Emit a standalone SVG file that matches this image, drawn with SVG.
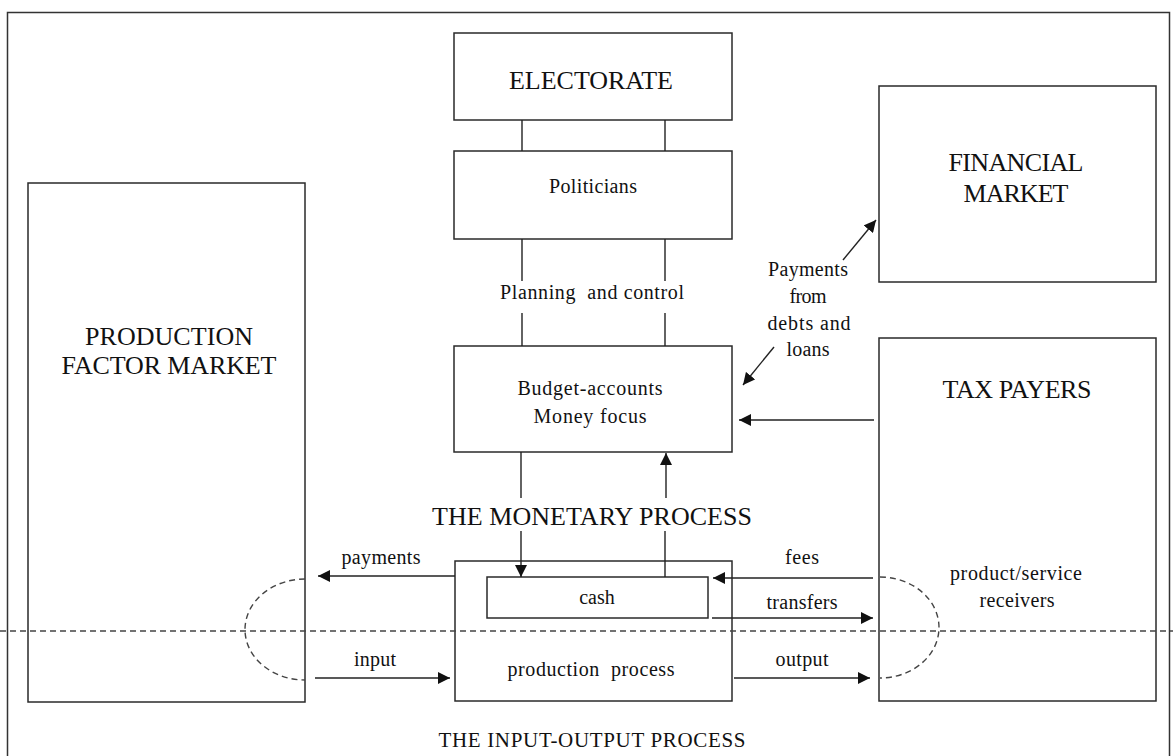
<svg xmlns="http://www.w3.org/2000/svg" width="1173" height="756" viewBox="0 0 1173 756">
  <defs>
    <marker id="arrow" viewBox="0 0 10 10" refX="10" refY="5" markerWidth="12" markerHeight="12" markerUnits="userSpaceOnUse" orient="auto">
      <path d="M0,0 L10,5 L0,10 z" fill="#111"/>
    </marker>
    <style>
      .box { fill: none; stroke: #2a2a2a; stroke-width: 1.5; }
      .link { fill: none; stroke: #222; stroke-width: 1.4; }
      .arr { fill: none; stroke: #222; stroke-width: 1.4; marker-end: url(#arrow); }
      .dash { fill: none; stroke: #444; stroke-width: 1.4; stroke-dasharray: 6 4; }
      text { font-family: "Liberation Serif", "Times New Roman", serif; fill: #111; text-anchor: middle; white-space: pre; }
      .big { font-size: 26px; }
      .mid { font-size: 21px; }
      .sm { font-size: 20px; }
    </style>
  </defs>

  <rect width="1173" height="756" fill="#fff"/>
  <!-- outer frame -->
  <rect x="7.5" y="12.5" width="1162" height="800" fill="none" stroke="#333" stroke-width="1.5"/>

  <g id="electorate">
    <rect class="box" x="454" y="33" width="278" height="87"/>
    <text class="big" x="591" y="89" textLength="164" lengthAdjust="spacing">ELECTORATE</text>
  </g>

  <g id="politicians">
    <rect class="box" x="454" y="151" width="278" height="88"/>
    <text class="sm" x="593" y="193" textLength="88" lengthAdjust="spacing">Politicians</text>
  </g>

  <g id="budget">
    <rect class="box" x="454" y="346" width="278" height="106"/>
    <text class="sm" x="590" y="395" textLength="145" lengthAdjust="spacing">Budget-accounts</text>
    <text class="sm" x="590" y="423" textLength="113" lengthAdjust="spacing">Money focus</text>
  </g>

  <g id="production-factor-market">
    <rect class="box" x="28" y="183" width="277" height="519"/>
    <text class="big" x="169" y="345" textLength="168" lengthAdjust="spacing">PRODUCTION</text>
    <text class="big" x="169" y="374" textLength="215" lengthAdjust="spacing">FACTOR MARKET</text>
  </g>

  <g id="financial-market">
    <rect class="box" x="879" y="86" width="277" height="196"/>
    <text class="big" x="1016" y="171" textLength="135" lengthAdjust="spacing">FINANCIAL</text>
    <text class="big" x="1016" y="202" textLength="105" lengthAdjust="spacing">MARKET</text>
  </g>

  <g id="tax-payers">
    <rect class="box" x="879" y="338" width="277" height="363"/>
    <text class="big" x="1017" y="398" textLength="149" lengthAdjust="spacing">TAX PAYERS</text>
    <text class="sm" x="1016" y="580" textLength="132" lengthAdjust="spacing">product/service</text>
    <text class="sm" x="1017" y="607" textLength="75" lengthAdjust="spacing">receivers</text>
  </g>

  <g id="production-process">
    <rect class="box" x="455" y="561" width="277" height="140"/>
    <text class="sm" x="591" y="676" textLength="167" lengthAdjust="spacing">production  process</text>
  </g>

  <g id="cash">
    <rect class="box" x="487" y="577" width="221" height="41"/>
    <text class="sm" x="597" y="604">cash</text>
  </g>

  <g id="labels">
    <text class="sm" x="592" y="299" textLength="184" lengthAdjust="spacing">Planning  and control</text>
    <text class="big" x="592" y="525" textLength="320" lengthAdjust="spacing">THE MONETARY PROCESS</text>
    <text class="mid" x="592" y="747" textLength="307" lengthAdjust="spacing">THE INPUT-OUTPUT PROCESS</text>
    <text class="sm" x="808" y="276" textLength="80" lengthAdjust="spacing">Payments</text>
    <text class="sm" x="808" y="303" textLength="37" lengthAdjust="spacing">from</text>
    <text class="sm" x="809" y="330" textLength="83" lengthAdjust="spacing">debts and</text>
    <text class="sm" x="808" y="356" textLength="43" lengthAdjust="spacing">loans</text>
    <text class="sm" x="381" y="564" textLength="79" lengthAdjust="spacing">payments</text>
    <text class="sm" x="375" y="666" textLength="42" lengthAdjust="spacing">input</text>
    <text class="sm" x="802" y="564" textLength="34" lengthAdjust="spacing">fees</text>
    <text class="sm" x="802" y="609" textLength="71" lengthAdjust="spacing">transfers</text>
    <text class="sm" x="802" y="666" textLength="53" lengthAdjust="spacing">output</text>
  </g>

  <g id="connectors">
    <!-- electorate to politicians -->
    <line class="link" x1="522" y1="120" x2="522" y2="151"/>
    <line class="link" x1="665" y1="120" x2="665" y2="151"/>
    <!-- politicians to budget (planning and control) -->
    <line class="link" x1="522" y1="239" x2="522" y2="281"/>
    <line class="link" x1="665" y1="239" x2="665" y2="281"/>
    <line class="link" x1="522" y1="313" x2="522" y2="346"/>
    <line class="link" x1="665" y1="313" x2="665" y2="346"/>
    <!-- budget and cash -->
    <line class="link" x1="521" y1="452" x2="521" y2="498"/>
    <line class="arr" x1="666" y1="498" x2="666" y2="453"/>
    <line class="arr" x1="521" y1="531" x2="521" y2="577"/>
    <line class="link" x1="665" y1="577" x2="665" y2="531"/>
    <!-- financial market -->
    <line class="arr" x1="843" y1="260" x2="876" y2="220"/>
    <line class="arr" x1="774" y1="347" x2="743" y2="385"/>
    <!-- tax payers to budget -->
    <line class="arr" x1="874" y1="420" x2="739" y2="420"/>
    <!-- monetary flows -->
    <line class="arr" x1="455" y1="576" x2="318" y2="576"/>
    <line class="arr" x1="873" y1="578" x2="713" y2="578"/>
    <line class="arr" x1="712" y1="618" x2="873" y2="618"/>
    <!-- real flows -->
    <line class="arr" x1="315" y1="678" x2="450" y2="678"/>
    <line class="arr" x1="734" y1="678" x2="870" y2="678"/>
    <!-- market loops -->
    <path class="dash" d="M305,579 A60,50.5 0 0 0 305,680"/>
    <path class="dash" d="M880,577 A59,50.5 0 0 1 880,678"/>
    <!-- boundary between the monetary and the input-output process -->
    <line class="dash" x1="0" y1="631" x2="1173" y2="631"/>
  </g>
</svg>
